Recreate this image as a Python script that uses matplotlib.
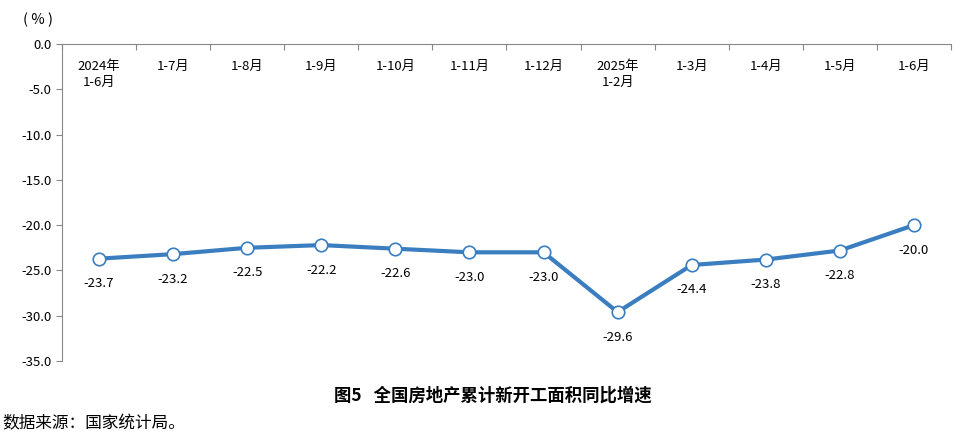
import numpy as np
import matplotlib.pyplot as plt

plt.rcParams['font.family'] = ['Noto Sans CJK SC', 'DejaVu Sans']

categories = ['2024年\n1-6月', '1-7月', '1-8月', '1-9月', '1-10月', '1-11月', '1-12月',
              '2025年\n1-2月', '1-3月', '1-4月', '1-5月', '1-6月']
values = [-23.7, -23.2, -22.5, -22.2, -22.6, -23.0, -23.0, -29.6, -24.4, -23.8, -22.8, -20.0]
yticks = [0, -5, -10, -15, -20, -25, -30, -35]

fig = plt.figure(figsize=(9.6, 4.41), dpi=100)
ax = fig.add_axes([0.0646, 0.1814, 0.926, 0.7188])

x = np.arange(len(values))
ax.plot(x, values, color='#3A7EC0', lw=3, marker='o', ms=9,
        mfc='white', mec='#3A7EC0', mew=1.2, zorder=3, clip_on=False)

for xi, v in zip(x, values):
    ax.annotate(f'{v:.1f}', (xi, v), xytext=(0, -18), textcoords='offset points',
                ha='center', va='center', fontsize=9.5)

for xi, c in zip(x, categories):
    ax.text(xi, -1.8, c, ha='center', va='top', fontsize=9.5, linespacing=1.25)

ax.set_xlim(-0.5, len(values) - 0.5)
ax.set_ylim(-35, 0)
ax.set_yticks(yticks)
ax.set_yticklabels([f'{t:.1f}' for t in yticks], fontsize=9.5)

ax.xaxis.tick_top()
ax.set_xticks(np.arange(-0.5, len(values), 1))
ax.set_xticklabels([])
ax.tick_params(axis='x', direction='in', length=4, color='#888888')
ax.tick_params(axis='y', direction='out', length=4, color='#888888')

for s in ['right', 'bottom']:
    ax.spines[s].set_visible(False)
ax.spines['left'].set_color('#888888')
ax.spines['top'].set_color('#888888')

fig.text(0.04, 0.955, '( % )', ha='center', va='center', fontsize=10.5)
fig.text(0.513, 0.103, '图5   全国房地产累计新开工面积同比增速', ha='center', va='center',
         fontsize=12.5, fontweight='bold')
fig.text(0.002, 0.038, '数据来源：国家统计局。', ha='left', va='center', fontsize=12)

fig.savefig('out.png', dpi=100)
